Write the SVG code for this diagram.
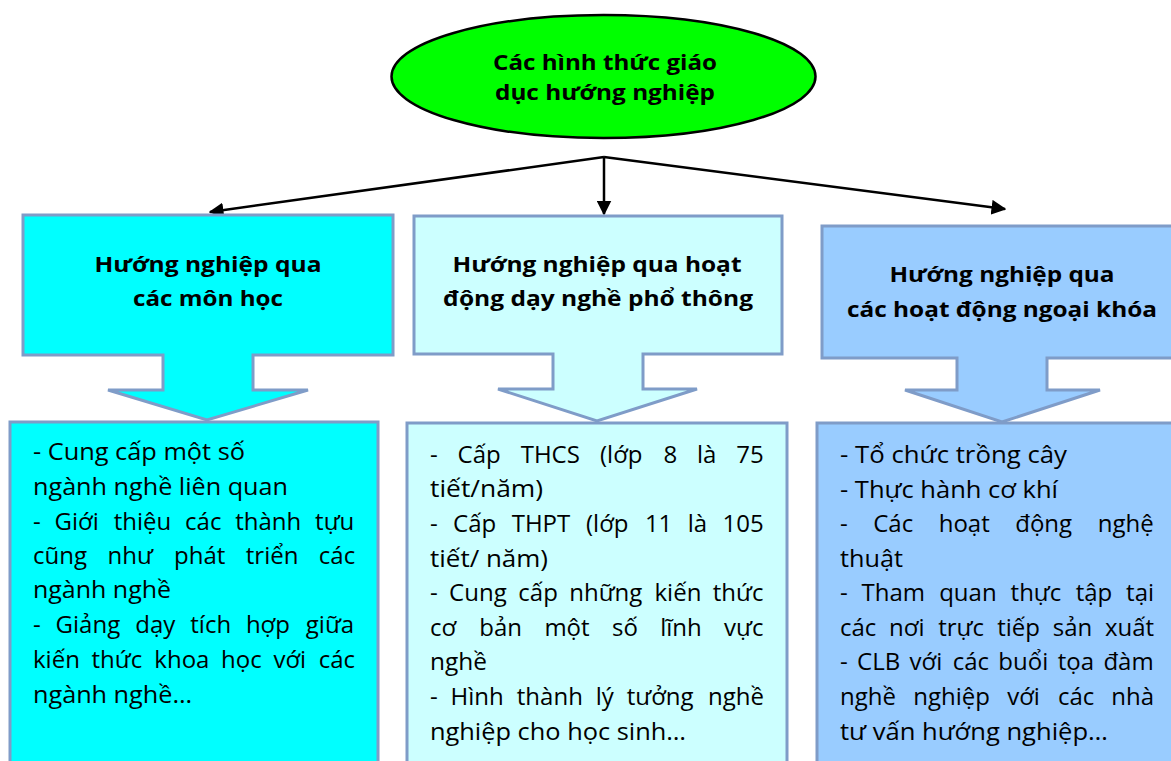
<svg xmlns="http://www.w3.org/2000/svg" width="1171" height="761" viewBox="0 0 1171 761">
<style>
.box{stroke:#7F9CC8;stroke-width:3;stroke-linejoin:miter}
.hd{font-family:"Open Sans","Noto Sans",sans-serif;font-weight:bold;font-size:22px;fill:#000;text-anchor:middle}
.bd{font-family:"Open Sans","Noto Sans",sans-serif;font-size:24px;fill:#000}
.el{font-family:"Open Sans","Noto Sans",sans-serif;font-weight:bold;font-size:21px;fill:#000;text-anchor:middle}
.con{stroke:#000;stroke-width:2.5;fill:none}
</style>
<defs>
<marker id="ah" viewBox="0 0 10 10" refX="9" refY="5" markerWidth="6" markerHeight="6" markerUnits="strokeWidth" orient="auto">
<path d="M0,0 L10,5 L0,10 Z" fill="#000"/>
</marker>
</defs>
<rect width="1171" height="761" fill="#fff"/>

<g id="root">
<ellipse cx="603.5" cy="76.5" rx="212" ry="61.5" fill="#00FF00" stroke="#000" stroke-width="2.5"/>
<text class="el" x="605" y="70" textLength="224" lengthAdjust="spacingAndGlyphs">Các hình thức giáo</text>
<text class="el" x="605" y="100" textLength="220" lengthAdjust="spacingAndGlyphs">dục hướng nghiệp</text>
</g>

<g id="connectors">
<path class="con" d="M604,157 L210,212" marker-end="url(#ah)"/>
<path class="con" d="M604,157 L604,214" marker-end="url(#ah)"/>
<path class="con" d="M604,157 L1005,209" marker-end="url(#ah)"/>
</g>

<g id="head-left">
<path class="box" fill="#00FFFF" d="M23,215 H393 V355 H253 V390 H308 L207,420 L108,390 H163 V355 H23 Z"/>
<text class="hd" x="208" y="272" textLength="227" lengthAdjust="spacingAndGlyphs">Hướng nghiệp qua</text>
<text class="hd" x="208" y="306" textLength="150" lengthAdjust="spacingAndGlyphs">các môn học</text>
</g>

<g id="head-middle">
<path class="box" fill="#CCFFFF" d="M414,216 H782 V354 H643 V389 H697 L597,421 L498,389 H553 V354 H414 Z"/>
<text class="hd" x="597" y="272" textLength="289" lengthAdjust="spacingAndGlyphs">Hướng nghiệp qua hoạt</text>
<text class="hd" x="598" y="306" textLength="310" lengthAdjust="spacingAndGlyphs">động dạy nghề phổ thông</text>
</g>

<g id="head-right">
<path class="box" fill="#99CCFF" d="M822,226 H1190 V358 H1047 V390 H1100 L1002,422 L905,390 H957 V358 H822 Z"/>
<text class="hd" x="1002" y="282" textLength="225" lengthAdjust="spacingAndGlyphs">Hướng nghiệp qua</text>
<text class="hd" x="1002" y="317" textLength="310" lengthAdjust="spacingAndGlyphs">các hoạt động ngoại khóa</text>
</g>

<g id="body-left">
<rect class="box" fill="#00FFFF" x="10" y="422" width="368" height="360"/>
<text class="bd" x="33" y="460" textLength="212" lengthAdjust="spacingAndGlyphs">- Cung cấp một số</text>
<text class="bd" x="33" y="495" textLength="255" lengthAdjust="spacingAndGlyphs">ngành nghề liên quan</text>
<text class="bd" y="530"><tspan x="33">-</tspan><tspan x="54.6">Giới</tspan><tspan x="113.7">thiệu</tspan><tspan x="185.1">các</tspan><tspan x="235.2">thành</tspan><tspan x="315.1">tựu</tspan></text>
<text class="bd" y="564"><tspan x="33">cũng</tspan><tspan x="107.5">như</tspan><tspan x="174">phát</tspan><tspan x="245.8">triển</tspan><tspan x="318.8">các</tspan></text>
<text class="bd" x="33" y="598" textLength="138" lengthAdjust="spacingAndGlyphs">ngành nghề</text>
<text class="bd" y="633"><tspan x="33">-</tspan><tspan x="55.6">Giảng</tspan><tspan x="135.3">dạy</tspan><tspan x="190.3">tích</tspan><tspan x="245.9">hợp</tspan><tspan x="305.8">giữa</tspan></text>
<text class="bd" y="668"><tspan x="33">kiến</tspan><tspan x="91.5">thức</tspan><tspan x="154.3">khoa</tspan><tspan x="221.1">học</tspan><tspan x="273.4">với</tspan><tspan x="318.7">các</tspan></text>
<text class="bd" x="33" y="703" textLength="159" lengthAdjust="spacingAndGlyphs">ngành nghề…</text>
</g>

<g id="body-middle">
<rect class="box" fill="#CCFFFF" x="407" y="423" width="380" height="360"/>
<text class="bd" y="463"><tspan x="430">-</tspan><tspan x="457.6">Cấp</tspan><tspan x="520.7">THCS</tspan><tspan x="600">(lớp</tspan><tspan x="663.4">8</tspan><tspan x="697">là</tspan><tspan x="736.3">75</tspan></text>
<text class="bd" x="430" y="497" textLength="113" lengthAdjust="spacingAndGlyphs">tiết/năm)</text>
<text class="bd" y="532"><tspan x="430">-</tspan><tspan x="453.1">Cấp</tspan><tspan x="511.7">THPT</tspan><tspan x="586">(lớp</tspan><tspan x="644.9">11</tspan><tspan x="687.8">là</tspan><tspan x="722.6">105</tspan></text>
<text class="bd" x="430" y="567" textLength="118" lengthAdjust="spacingAndGlyphs">tiết/ năm)</text>
<text class="bd" y="601"><tspan x="430">-</tspan><tspan x="449.1">Cung</tspan><tspan x="518.3">cấp</tspan><tspan x="569.2">những</tspan><tspan x="654.5">kiến</tspan><tspan x="712.8">thức</tspan></text>
<text class="bd" y="636"><tspan x="430">cơ</tspan><tspan x="479.3">bản</tspan><tspan x="544.4">một</tspan><tspan x="612">số</tspan><tspan x="660.2">lĩnh</tspan><tspan x="724.1">vực</tspan></text>
<text class="bd" x="430" y="670" textLength="57" lengthAdjust="spacingAndGlyphs">nghề</text>
<text class="bd" y="705"><tspan x="430">-</tspan><tspan x="450.6">Hình</tspan><tspan x="516.8">thành</tspan><tspan x="595.7">lý</tspan><tspan x="626.7">tưởng</tspan><tspan x="708.1">nghề</tspan></text>
<text class="bd" x="430" y="740" textLength="256" lengthAdjust="spacingAndGlyphs">nghiệp cho học sinh…</text>
</g>

<g id="body-right">
<rect class="box" fill="#99CCFF" x="817" y="423" width="400" height="360"/>
<text class="bd" x="840" y="463" textLength="227" lengthAdjust="spacingAndGlyphs">- Tổ chức trồng cây</text>
<text class="bd" x="840" y="498" textLength="218" lengthAdjust="spacingAndGlyphs">- Thực hành cơ khí</text>
<text class="bd" y="532"><tspan x="840">-</tspan><tspan x="873.2">Các</tspan><tspan x="938.7">hoạt</tspan><tspan x="1015.2">động</tspan><tspan x="1097.8">nghệ</tspan></text>
<text class="bd" x="840" y="567" textLength="63" lengthAdjust="spacingAndGlyphs">thuật</text>
<text class="bd" y="601"><tspan x="840">-</tspan><tspan x="861.6">Tham</tspan><tspan x="939.2">quan</tspan><tspan x="1010.6">thực</tspan><tspan x="1075.7">tập</tspan><tspan x="1126.1">tại</tspan></text>
<text class="bd" y="636"><tspan x="840">các</tspan><tspan x="889">nơi</tspan><tspan x="938.2">trực</tspan><tspan x="997.2">tiếp</tspan><tspan x="1052.7">sản</tspan><tspan x="1105">xuất</tspan></text>
<text class="bd" y="670"><tspan x="840">-</tspan><tspan x="857.1">CLB</tspan><tspan x="909.6">với</tspan><tspan x="952.7">các</tspan><tspan x="998.3">buổi</tspan><tspan x="1057.7">tọa</tspan><tspan x="1103.4">đàm</tspan></text>
<text class="bd" y="705"><tspan x="840">nghề</tspan><tspan x="913.2">nghiệp</tspan><tspan x="1007.2">với</tspan><tspan x="1058">các</tspan><tspan x="1111.3">nhà</tspan></text>
<text class="bd" x="840" y="740" textLength="268" lengthAdjust="spacingAndGlyphs">tư vấn hướng nghiệp…</text>
</g>
</svg>
